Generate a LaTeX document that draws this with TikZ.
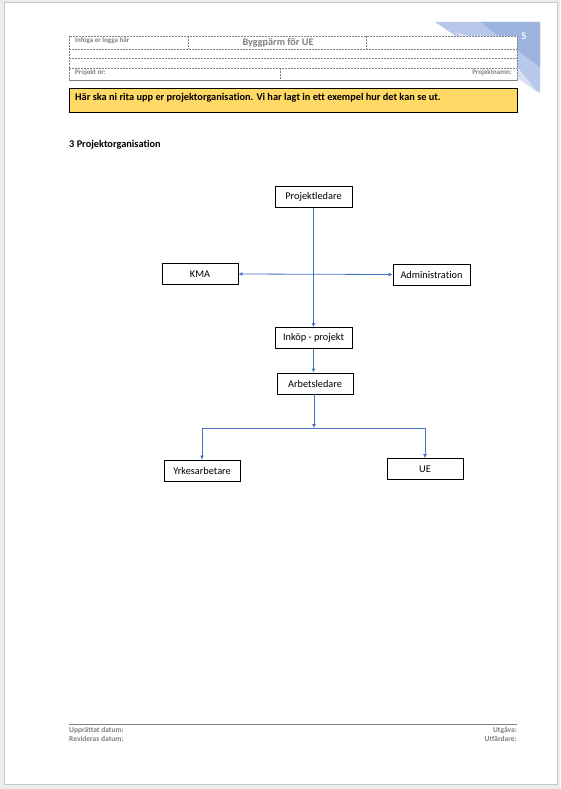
\documentclass[tikz,border=0pt]{standalone}
\usepackage{fontspec}
\setmainfont{Carlito}[Ligatures=NoCommon]
\usetikzlibrary{arrows.meta}
\definecolor{wordblue}{HTML}{4472C4}
\definecolor{hdrgray}{HTML}{808080}
\definecolor{gold}{HTML}{FFD966}
\definecolor{triA}{HTML}{B7C8EA}
\definecolor{triB}{HTML}{9DB4DF}
\definecolor{triC}{HTML}{D9E2F4}
\definecolor{pagebg}{HTML}{ECECEC}
\definecolor{pageedge}{HTML}{C8C8C8}
\tikzset{
  orgbox/.style={draw=black, line width=0.8pt, fill=white, minimum width=77pt, minimum height=21pt, inner sep=0pt, font=\fontsize{10.3}{11}\selectfont},
  conn/.style={draw=wordblue, line width=0.8pt},
  arr/.style={conn, -{Latex[length=4pt,width=4pt]}},
  darr/.style={conn, {Latex[length=4pt,width=4pt]}-{Latex[length=4pt,width=4pt]}},
  hdrline/.style={draw=hdrgray, line width=0.6pt, dash pattern=on 2pt off 1pt},
  hdrtext/.style={text=hdrgray, font=\fontsize{7}{8}\selectfont\bfseries, inner sep=0pt},
  foottext/.style={text=hdrgray, font=\fontsize{7.5}{8}\selectfont\bfseries, inner sep=0pt},
}
\begin{document}
\begin{tikzpicture}[x=1pt,y=-1pt]
\useasboundingbox (0,0) rectangle (560,789);
% page
\fill[pagebg] (0,0) rectangle (560,789);
\filldraw[fill=white, draw=pageedge, line width=1pt] (4,3) rectangle (557,784);
% decorative triangle
\fill[triA] (435,22) -- (540,22) -- (540,93) -- cycle;
\fill[triC] (455,32) -- (500,45) -- (538,93) -- cycle;
\fill[triB] (480,22) -- (540,22) -- (540,67) -- cycle;
\node[text=white, font=\fontsize{10}{11}\selectfont\bfseries, inner sep=0pt] (pagenum) at (524,36) {5};
% header table
\fill[white] (69,36) rectangle (517,80);
\draw[hdrline] (69,36) rectangle (517,80);
\draw[hdrline] (69,49) -- (517,49);
\draw[hdrline] (69,58) -- (517,58);
\draw[hdrline] (69,68) -- (517,68);
\draw[hdrline] (188,36) -- (188,49);
\draw[hdrline] (366,36) -- (366,49);
\draw[hdrline] (280,68) -- (280,80);
\draw[draw=hdrgray, line width=0.9pt] (69,80) -- (517,80);
\node[hdrtext, anchor=west] (logo) at (75,41) {Infoga er logga här};
\node[hdrtext, font=\fontsize{10.2}{11}\selectfont\bfseries] (title) at (278,42.5) {Byggpärm för UE};
\node[hdrtext, anchor=west] (projnr) at (75,73) {Projekt nr:};
\node[hdrtext, anchor=east] (projnamn) at (512,73) {Projektnamn:};
% yellow note
\filldraw[fill=gold, draw=black, line width=0.9pt] (69,88) rectangle (517,112);
\node[anchor=west, inner sep=0pt, font=\fontsize{10.3}{12}\selectfont\bfseries] (note) at (75,97.5) {Här ska ni rita upp er projektorganisation. Vi har lagt in ett exempel hur det kan se ut.};
% heading
\node[anchor=west, inner sep=0pt, font=\fontsize{10.3}{12}\selectfont\bfseries] (heading) at (69,145) {3 Projektorganisation};
% org chart
\node[orgbox] (pl) at (313.5,197) {Projektledare};
\node[orgbox, minimum width=76pt] (kma) at (200,274) {KMA};
\node[orgbox] (adm) at (431.5,274.5) {Administration};
\node[orgbox] (ink) at (313.5,338) {Inköp - projekt};
\node[orgbox, minimum width=76pt] (arb) at (315,383.5) {Arbetsledare};
\node[orgbox, minimum width=76pt] (yrk) at (202,470.5) {Yrkesarbetare};
\node[orgbox, minimum width=76pt] (ue) at (425,469) {UE};
\draw[arr] (pl.south) -- (ink.north);
\draw[darr] (kma.east) -- (adm.west);
\draw[arr] (ink.south) -- (ink.south |- arb.north);
\coordinate (junc) at (314,428);
\draw[arr] (arb.south -| junc) -- (junc);
\draw[conn] (yrk.north |- junc) -- (ue.north |- junc);
\draw[arr] (yrk.north |- junc) -- (yrk.north);
\draw[arr] (ue.north |- junc) -- (ue.north);
% footer
\draw[draw=hdrgray, line width=0.9pt] (69,724) -- (517,724);
\node[foottext, anchor=west] (upp) at (69,730) {Upprättat datum:};
\node[foottext, anchor=west] (rev) at (69,739) {Revideras datum:};
\node[foottext, anchor=east] (utg) at (517,730) {Utgåva:};
\node[foottext, anchor=east] (utf) at (517,739) {Utfärdare:};
\end{tikzpicture}
\end{document}
